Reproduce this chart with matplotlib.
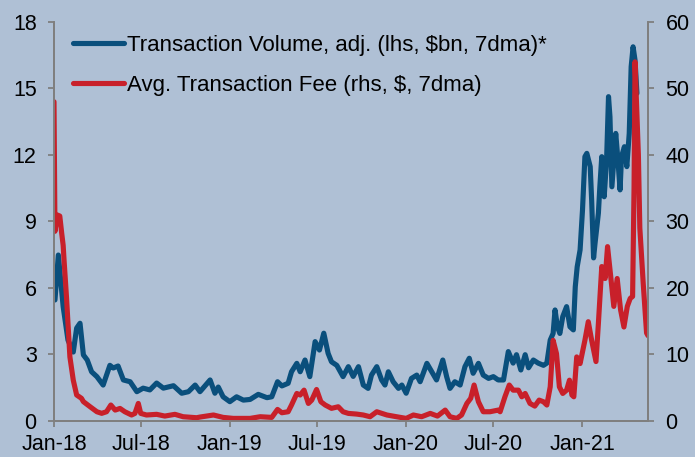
import numpy as np
import pandas as pd
import matplotlib
matplotlib.use("Agg")
import matplotlib.pyplot as plt
import matplotlib.dates as mdates

plt.rcParams["font.family"] = ["Liberation Sans", "DejaVu Sans"]

# Transaction volume, adj. ($bn, 7-day moving average)
vol_dates = [
    "2018-01-03", "2018-01-10", "2018-01-20", "2018-01-30", "2018-02-10", "2018-02-17",
    "2018-02-24", "2018-03-03", "2018-03-11", "2018-03-20", "2018-03-31", "2018-04-13",
    "2018-04-27", "2018-05-04", "2018-05-14", "2018-05-25", "2018-06-08", "2018-06-22",
    "2018-07-05", "2018-07-19", "2018-08-02", "2018-08-16", "2018-09-06", "2018-09-23",
    "2018-10-07", "2018-10-21", "2018-10-31", "2018-11-21", "2018-12-01", "2018-12-08",
    "2018-12-18", "2019-01-01", "2019-01-15", "2019-01-29", "2019-02-12", "2019-03-01",
    "2019-03-19", "2019-03-29", "2019-04-10", "2019-04-19", "2019-05-02", "2019-05-09",
    "2019-05-20", "2019-05-27", "2019-06-06", "2019-06-16", "2019-06-27", "2019-07-06",
    "2019-07-15", "2019-07-24", "2019-07-31", "2019-08-11", "2019-08-24", "2019-09-04",
    "2019-09-14", "2019-09-25", "2019-10-05", "2019-10-15", "2019-10-22", "2019-11-02",
    "2019-11-12", "2019-11-19", "2019-11-26", "2019-12-06", "2019-12-17", "2019-12-24",
    "2020-01-02", "2020-01-13", "2020-01-24", "2020-01-31", "2020-02-14", "2020-02-24",
    "2020-03-05", "2020-03-18", "2020-03-26", "2020-04-02", "2020-04-12", "2020-04-23",
    "2020-05-03", "2020-05-12", "2020-05-20", "2020-05-31", "2020-06-10", "2020-06-21",
    "2020-07-01", "2020-07-11", "2020-07-22", "2020-08-01", "2020-08-11", "2020-08-18",
    "2020-08-27", "2020-09-05", "2020-09-12", "2020-09-22", "2020-10-02", "2020-10-13",
    "2020-10-20", "2020-10-27", "2020-11-02", "2020-11-06", "2020-11-11", "2020-11-16",
    "2020-11-22", "2020-11-30", "2020-12-07", "2020-12-14", "2020-12-18", "2020-12-22",
    "2020-12-28", "2021-01-02", "2021-01-07", "2021-01-11", "2021-01-18", "2021-01-21",
    "2021-01-25", "2021-01-28", "2021-02-04", "2021-02-07", "2021-02-11", "2021-02-16",
    "2021-02-21", "2021-02-25", "2021-02-28", "2021-03-04", "2021-03-07", "2021-03-12",
    "2021-03-16", "2021-03-21", "2021-03-24", "2021-03-30", "2021-04-04", "2021-04-09",
    "2021-04-13", "2021-04-17", "2021-04-21", "2021-04-25",
]
vol_values = [
    5.45, 7.48, 5.15, 3.64, 3.10, 4.18,
    4.40, 2.97, 2.74, 2.21, 1.99, 1.61,
    2.50, 2.38, 2.47, 1.84, 1.76, 1.31,
    1.47, 1.39, 1.70, 1.47, 1.58, 1.24,
    1.31, 1.61, 1.31, 1.84, 1.24, 1.52,
    1.08, 0.86, 1.08, 0.93, 0.96, 1.19,
    1.04, 1.08, 1.76, 1.57, 1.69, 2.21,
    2.59, 2.21, 2.74, 1.99, 3.57, 3.19,
    3.95, 3.04, 2.66, 2.50, 1.99, 2.44,
    2.00, 2.44, 1.61, 1.46, 2.06, 2.44,
    1.84, 1.61, 2.21, 1.76, 1.46, 1.61,
    1.24, 1.91, 2.06, 1.76, 2.59, 2.21,
    1.84, 2.74, 1.99, 1.46, 1.76, 1.61,
    2.44, 2.82, 2.14, 2.59, 2.06, 1.91,
    1.99, 1.84, 1.84, 3.12, 2.60, 2.98,
    2.29, 2.98, 2.39, 2.74, 2.60, 2.50,
    2.60, 3.64, 3.94, 5.00, 4.24, 3.94,
    4.70, 5.15, 4.24, 4.10, 6.05, 6.95,
    7.71, 9.51, 11.92, 12.07, 11.47, 9.96,
    7.35, 8.00, 9.37, 10.56, 11.92, 10.11,
    11.77, 14.63, 13.72, 10.56, 11.47, 12.97,
    11.92, 10.42, 11.92, 12.37, 11.47, 12.97,
    15.98, 16.88, 16.28, 14.78,
]

# Average transaction fee ($, 7-day moving average)
fee_dates = [
    "2018-01-01", "2018-01-03", "2018-01-08", "2018-01-13", "2018-01-17", "2018-01-20",
    "2018-01-22", "2018-01-27", "2018-02-03", "2018-02-10", "2018-02-17", "2018-02-27",
    "2018-03-03", "2018-03-17", "2018-03-31", "2018-04-10", "2018-04-20", "2018-04-29",
    "2018-05-08", "2018-05-18", "2018-05-28", "2018-06-11", "2018-06-18", "2018-06-25",
    "2018-06-30", "2018-07-12", "2018-08-02", "2018-08-19", "2018-09-09", "2018-09-26",
    "2018-10-24", "2018-10-31", "2018-11-28", "2018-12-18", "2019-01-08", "2019-02-12",
    "2019-03-05", "2019-03-29", "2019-04-10", "2019-04-19", "2019-05-02", "2019-05-09",
    "2019-05-20", "2019-05-27", "2019-06-04", "2019-06-13", "2019-06-20", "2019-06-30",
    "2019-07-09", "2019-07-18", "2019-07-31", "2019-08-14", "2019-08-24", "2019-09-04",
    "2019-09-21", "2019-10-05", "2019-10-19", "2019-11-02", "2019-11-23", "2019-12-13",
    "2020-01-02", "2020-01-17", "2020-02-03", "2020-02-21", "2020-03-07", "2020-03-23",
    "2020-04-02", "2020-04-16", "2020-04-26", "2020-05-07", "2020-05-15", "2020-05-22",
    "2020-05-31", "2020-06-10", "2020-06-24", "2020-07-11", "2020-07-15", "2020-07-25",
    "2020-08-03", "2020-08-11", "2020-08-22", "2020-08-29", "2020-09-05", "2020-09-15",
    "2020-09-25", "2020-10-04", "2020-10-13", "2020-10-20", "2020-10-27", "2020-11-02",
    "2020-11-09", "2020-11-15", "2020-11-22", "2020-11-30", "2020-12-06", "2020-12-11",
    "2020-12-15", "2020-12-21", "2020-12-28", "2021-01-07", "2021-01-14", "2021-01-21",
    "2021-01-30", "2021-02-04", "2021-02-11", "2021-02-18", "2021-02-23", "2021-03-02",
    "2021-03-08", "2021-03-15", "2021-03-22", "2021-03-29", "2021-04-05", "2021-04-11",
    "2021-04-16", "2021-04-19", "2021-04-21", "2021-04-24", "2021-04-28", "2021-05-01",
    "2021-05-08", "2021-05-15", "2021-05-18",
]
fee_values = [
    48.0, 28.5, 30.95, 30.8, 28.2, 26.4,
    24.0, 18.5, 9.6, 6.1, 3.87, 3.37,
    2.87, 2.10, 1.35, 1.11, 1.35, 2.36,
    1.60, 1.85, 1.35, 0.86, 1.10, 2.60,
    1.10, 0.86, 0.96, 0.70, 0.96, 0.60,
    0.45, 0.55, 0.86, 0.50, 0.35, 0.35,
    0.60, 0.50, 1.70, 1.20, 1.35, 2.36,
    4.10, 3.87, 4.60, 2.60, 3.10, 4.70,
    2.85, 2.36, 1.86, 2.10, 1.35, 1.10,
    1.00, 0.86, 0.60, 1.35, 0.86, 0.60,
    0.35, 0.86, 0.60, 1.10, 0.70, 1.60,
    0.60, 0.35, 0.86, 2.60, 3.37, 5.37,
    2.85, 1.35, 1.35, 1.60, 1.35, 3.60,
    5.37, 4.60, 4.60, 3.60, 4.10, 2.60,
    2.20, 3.10, 2.85, 2.36, 5.10, 12.1,
    10.1, 5.10, 4.10, 4.60, 6.10, 3.87,
    3.60, 9.60, 8.60, 12.1, 14.9, 12.1,
    8.90, 14.66, 23.2, 21.4, 26.2, 21.4,
    17.2, 21.4, 16.7, 14.1, 17.2, 18.4,
    18.7, 35.0, 54.0, 48.0, 40.0, 29.0,
    20.7, 13.2, 12.8,
]

vol = pd.Series(vol_values, index=pd.to_datetime(vol_dates))
fee = pd.Series(fee_values, index=pd.to_datetime(fee_dates))

BG = "#afc0d5"
BLUE = "#0a4f7c"
RED = "#c8202a"
SPINE = "#7f7f7f"
FS = 15.5

fig = plt.figure(figsize=(6.95, 4.57), dpi=100, facecolor=BG)
ax = fig.add_axes([0.0777, 0.0794, 0.8547, 0.8725], facecolor=BG)
ax2 = ax.twinx()

l1, = ax.plot(vol.index, vol.values, color=BLUE, lw=3.7, solid_joinstyle="round",
              solid_capstyle="round", label="Transaction Volume, adj. (lhs, $bn, 7dma)*")
l2, = ax2.plot(fee.index, fee.values, color=RED, lw=3.7, solid_joinstyle="round",
               solid_capstyle="round", label="Avg. Transaction Fee (rhs, $, 7dma)")

ax.set_xlim(pd.Timestamp("2018-01-01"), pd.Timestamp("2021-05-18"))
ax.set_ylim(0, 18)
ax2.set_ylim(0, 60)
ax.set_yticks(np.arange(0, 19, 3))
ax2.set_yticks(np.arange(0, 61, 10))

ax.xaxis.set_major_locator(mdates.MonthLocator(bymonth=[1, 7]))
ax.xaxis.set_major_formatter(mdates.DateFormatter("%b-%y"))

for a in (ax, ax2):
    a.spines["top"].set_visible(False)
    for s in ("left", "right", "bottom"):
        a.spines[s].set_color(SPINE)
        a.spines[s].set_linewidth(1.3)
    a.tick_params(axis="both", colors=SPINE, labelcolor="black", labelsize=FS,
                  length=4.5, width=1.3, direction="out")
ax.tick_params(axis="y", pad=8)
ax2.tick_params(axis="y", pad=8)
ax.tick_params(axis="x", pad=5)

leg = ax2.legend(handles=[l1, l2], loc="upper left", bbox_to_anchor=(0.032, 0.9675),
                 frameon=False, fontsize=16, borderpad=0.0, borderaxespad=0.0,
                 handlelength=2.3, handletextpad=0.15, labelspacing=0.87)

fig.savefig("out.png", dpi=100, facecolor=BG)
